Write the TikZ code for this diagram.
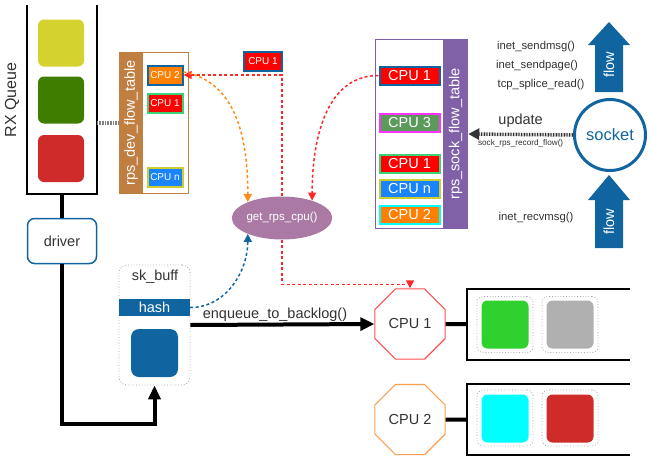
\documentclass[tikz,border=0pt]{standalone}
\usepackage{fontspec}
\setmainfont{Liberation Sans}
\usetikzlibrary{arrows.meta,positioning,shapes.geometric}

\definecolor{kblue}{RGB}{16,101,160}
\definecolor{kred}{RGB}{208,43,43}
\definecolor{kyellow}{RGB}{212,210,46}
\definecolor{kgreen}{RGB}{62,125,0}
\definecolor{kbrown}{RGB}{192,126,64}
\definecolor{kpurple}{RGB}{128,96,166}
\definecolor{kmauve}{RGB}{170,122,164}
\definecolor{cpured}{RGB}{255,0,0}
\definecolor{cpuorange}{RGB}{255,128,0}
\definecolor{cpublue}{RGB}{26,132,255}
\definecolor{cpugreen}{RGB}{92,154,92}
\definecolor{bgreen}{RGB}{60,210,120}
\definecolor{byellow}{RGB}{205,205,50}
\definecolor{bmagenta}{RGB}{255,51,255}
\definecolor{bcyan}{RGB}{0,255,255}
\definecolor{dashred}{RGB}{255,40,40}
\definecolor{dashorange}{RGB}{255,140,26}
\definecolor{octred}{RGB}{255,80,80}
\definecolor{octorange}{RGB}{255,160,80}
\definecolor{qgreen}{RGB}{46,209,46}
\definecolor{qgrey}{RGB}{176,176,176}
\definecolor{txt}{RGB}{50,50,50}

\begin{document}
\begin{tikzpicture}[x=1pt,y=-1pt,>={Triangle[length=8pt,width=8pt]},
  font=\fontsize{14.5}{16}\selectfont]
	\useasboundingbox (0,0) rectangle (650,466);
	\tikzset{every node/.style={text=txt}}
	\tikzset{item/.style={rounded corners=6pt,minimum width=46pt,minimum height=47pt,inner sep=0pt}}
	\tikzset{slot/.style={draw=gray!70,dotted,thick,rounded corners=6pt,minimum size=56pt}}
	\tikzset{devcpu/.style={draw,line width=2pt,text=white,inner sep=0pt,minimum width=35pt,minimum height=19pt,font=\fontsize{10}{10}\selectfont}}
	\tikzset{sockcpu/.style={draw,line width=2pt,text=white,inner sep=0pt,minimum width=60pt,minimum height=18pt}}
	\tikzset{octa/.style={regular polygon,regular polygon sides=8,minimum size=76pt,inner sep=0pt,fill=white,line width=1.2pt}}
	\tikzset{heavy/.style={line width=4pt,black}}
	\tikzset{dotline/.style={line width=3.5pt,dash pattern=on 0.8pt off 0.8pt}}
	\tikzset{reddash/.style={dashred,line width=1.5pt,dash pattern=on 3pt off 2.5pt}}

	% RX queue
	\draw[line width=2pt] (27,5) -- (27,194) -- (97,194) -- (97,5);
	\node[rotate=90,font=\fontsize{16}{18}\selectfont] (rxlabel) at (12,100) {RX Queue};
	\node[item,fill=kyellow] (rx1) at (61,43) {};
	\node[item,fill=kgreen]  (rx2) at (61,100) {};
	\node[item,fill=kred]    (rx3) at (61,158.5) {};
	\coordinate (rxq) at (62,194);
	\coordinate (rxside) at (97,123);

	\node[draw=kblue,line width=1.5pt,rounded corners=7pt,minimum width=69pt,minimum height=45pt,fill=white] (driver) at (62,241) {driver};

	% rps_dev_flow_table
	\node[draw=kbrown,line width=1.5pt,minimum width=69pt,minimum height=141pt] (devtab) at (154,123) {};
	\fill[kbrown] (119,52) rectangle (143,194);
	\node[rotate=90,text=white] (devlabel) at (131,123) {rps\_dev\_flow\_table};
	\node[devcpu,fill=cpuorange,draw=kblue]  (dev2) at (165,75) {CPU 2};
	\node[devcpu,fill=cpured,draw=bgreen]    (dev1) at (165,103) {CPU 1};
	\node[devcpu,fill=cpublue,draw=byellow]  (devn) at (165,177.5) {CPU n};

	\node[devcpu,fill=cpured,draw=kblue,minimum width=38pt] (cpusel) at (263,61) {CPU 1};

	% rps_sock_flow_table
	\node[draw=kpurple,line width=1.5pt,minimum width=92pt,minimum height=189pt] (socktab) at (421.5,134) {};
	\fill[kpurple] (443,39) rectangle (468,229);
	\node[rotate=90,text=white] (socklabel) at (455.5,134) {rps\_sock\_flow\_table};
	\node[sockcpu,fill=cpured,draw=kblue]      (sock1) at (409.5,75.5) {CPU 1};
	\node[sockcpu,fill=cpugreen,draw=bmagenta] (sock3) at (409.5,122.5) {CPU 3};
	\node[sockcpu,fill=cpured,draw=bgreen]     (sock1b) at (409.5,163.5) {CPU 1};
	\node[sockcpu,fill=cpublue,draw=byellow]   (sockn) at (409.5,188.5) {CPU n};
	\node[sockcpu,fill=cpuorange,draw=bcyan]   (sock2) at (409.5,215) {CPU 2};

	% socket and flows
	\node[circle,draw=kblue,line width=3pt,minimum size=71pt,inner sep=0pt,text=kblue,font=\fontsize{16.5}{18}\selectfont] (socket) at (610,135) {socket};
	\fill[kblue] (595,92) -- (595,45) -- (588,45) -- (609,22) -- (630,45) -- (623,45) -- (623,92) -- cycle;
	\node[rotate=90,text=white] (flowup) at (609,65) {flow};
	\fill[kblue] (595,248) -- (595,200) -- (588,200) -- (609,175) -- (630,200) -- (623,200) -- (623,248) -- cycle;
	\node[rotate=90,text=white] (flowdown) at (609,222) {flow};
	\tikzset{every node/.style={text=txt,font=\fontsize{11.3}{13}\selectfont}}
	\node (send1) at (536,47) {inet\_sendmsg()};
	\node (send2) at (537,66) {inet\_sendpage()};
	\node (send3) at (541,85) {tcp\_splice\_read()};
	\node (recv) at (536,218) {inet\_recvmsg()};
	\tikzset{every node/.style={text=txt}}

	\node[ellipse,fill=kmauve,minimum width=93pt,minimum height=43pt,inner sep=0pt,text=white,font=\fontsize{11.5}{13}\selectfont] (rps) at (282,218) {get\_rps\_cpu()};

	% sk_buff
	\node[draw=gray!70,dotted,thick,rounded corners=8pt,minimum width=71pt,minimum height=120pt] (skbuff) at (154.5,325) {};
	\node (sklabel) at (155,277) {sk\_buff};
	\node[fill=kblue,text=white,minimum width=71pt,minimum height=17pt,inner sep=0pt] (hash) at (154.5,307.5) {hash};
	\node[fill=kblue,rounded corners=8pt,minimum width=47pt,minimum height=48pt] (skdata) at (154.5,353) {};

	% CPUs and backlogs
	\node[octa,draw=octred]    (cpu1) at (410,324) {CPU 1};
	\node[octa,draw=octorange] (cpu2) at (410,419.5) {CPU 2};
	\draw[line width=2pt] (630,289) -- (467,289) -- (467,360) -- (630,360);
	\draw[line width=2pt] (630,384) -- (467,384) -- (467,455) -- (630,455);
	\coordinate (bl1) at (467,324);
	\coordinate (bl2) at (467,419.5);
	\node[slot] (s11) at (505,324.5) {};
	\node[slot] (s12) at (570,324.5) {};
	\node[slot] (s21) at (505,418) {};
	\node[slot] (s22) at (570,418) {};
	\node[item,fill=qgreen,minimum width=47pt,minimum height=48pt] (b11) at (505,324.5) {};
	\node[item,fill=qgrey,minimum width=47pt,minimum height=48pt] (b12) at (570,324.5) {};
	\node[item,fill=bcyan,minimum width=47pt,minimum height=48pt] (b21) at (505,418.5) {};
	\node[item,fill=kred,minimum width=47pt,minimum height=48pt] (b22) at (570,418.5) {};

	% connectors
	\draw[heavy] (rxq) -- (driver.north);
	\draw[heavy,-{Triangle[length=14pt,width=12pt]}] (driver.south) -- ++(0,160) -| (skbuff.south);
	\draw[heavy,-{Triangle[length=14pt,width=13pt]}] (skbuff.east) -- node[pos=0.46,above,inner sep=1pt] {enqueue\_to\_backlog()} (cpu1.west);
	\draw[heavy] (cpu1.east) -- (bl1);
	\draw[heavy] (cpu2.east) -- (bl2);
	\draw[dotline,gray] (rxside) -- (devtab.west);
	\draw[dotline,black!80,-{Triangle[length=11pt,width=11pt]}] (socket.west) -- node[above=2pt] {update} node[below=0pt,font=\fontsize{8.2}{9}\selectfont] {sock\_rps\_record\_flow()} (socktab.east);
	\draw[reddash,->] (rps.north) |- (dev2.east);
	\draw[reddash,->] (rps.south) -- ++(0,45) -| (cpu1.north);
	\draw[reddash,->] (sock1.west) to[out=180,in=90] (rps.30);
	\draw[dashorange,line width=1.5pt,dash pattern=on 3pt off 2.5pt,->] ([yshift=3pt]dev2.east) to[out=-10,in=90] (rps.155);
	\draw[kblue,line width=1.5pt,dash pattern=on 3pt off 2.5pt,->] (hash.east) to[out=0,in=-90] (rps.-155);
\end{tikzpicture}
\end{document}
